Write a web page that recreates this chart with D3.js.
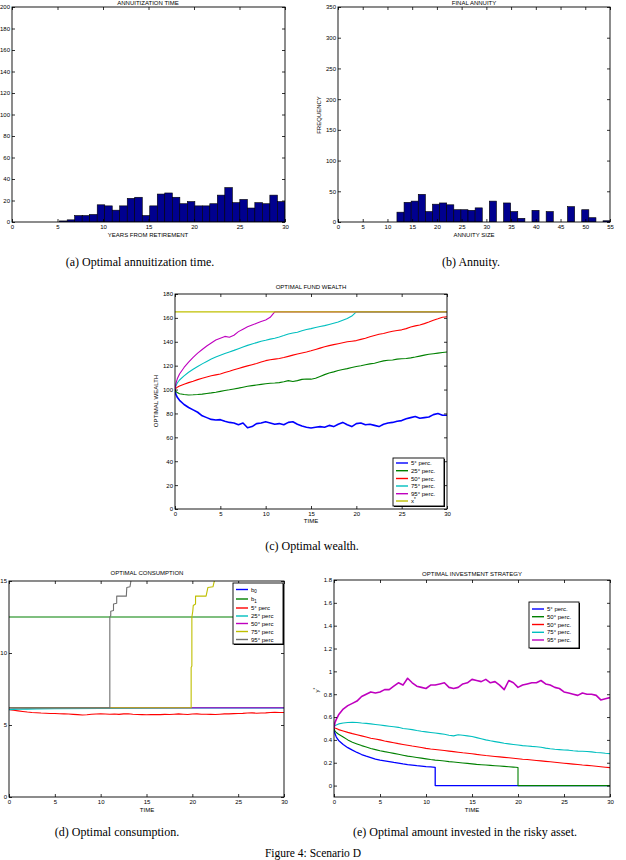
<!DOCTYPE html>
<html><head><meta charset="utf-8">
<script src="https://cdn.jsdelivr.net/npm/d3@7"></script>
<style>body{margin:0;background:#fff}svg{display:block}</style>
</head><body>
<svg id="fig" width="626" height="860"></svg>
<script>
// ---------------- DATA ----------------
// (a) annuitization time histogram
const annuitTimeBins = [5.65,6.48,7.3,8.13,8.95,9.78,10.6,11.43,12.25,13.08,13.9,14.73,15.55,16.38,17.2,18.03,18.85,19.68,20.5,21.33,22.15,22.98,23.8,24.63,25.45,26.28,27.1,27.93,28.75,29.58];
const annuitTimeCounts = [1,2,6,6,7,16,15,11,15,22,23,6,15,26,27,23,17,19,15,15,17,25,32,18,21,13,18,17,25,19];
// (b) final annuity histogram
const annuitySizeBins = [12.64,14.08,15.51,16.95,18.39,19.82,21.26,22.7,24.13,25.57,27.01,28.45,29.88,31.32,32.76,34.19,35.63,37.07,38.5,39.94,41.38,42.81,44.25,45.69,47.13,48.56,50.0,51.44,52.87,54.31];
const annuitySizeCounts = [16,32,34,45,17,29,31,28,20,20,19,23,0,34,0,31,17,6,0,19,0,17,0,0,25,0,20,7,0,2];

// common time grid (years)
const T = [0,0.1,0.25,0.5,1,1.5,2,2.5,3,3.5,4,4.5,5,5.5,6,6.5,7,7.5,8,8.5,9,9.5,10,10.5,11,11.5,12,12.5,13,13.5,14,14.5,15,15.5,16,16.5,17,17.5,18,18.5,19,19.5,20,20.5,21,21.5,22,22.5,23,23.5,24,24.5,25,25.5,26,26.5,27,27.5,28,28.5,29,29.5,30];

// (c) optimal fund wealth percentiles
const wealth5 = [100,96,93.5,91,87.5,85,83,81,78,76.5,75,74.5,74.8,73.5,72.5,72,70.5,72,68,69,71.5,72,73,72,71,71.5,70.5,72.5,73,71,69.5,68.5,67.8,68.5,69,68.5,70,69,71,72.5,70.5,69,71.5,72,70.5,71,70,69,71,72,72.5,73.5,74,75.5,76.5,77.5,76,76.5,77,79,80,78.5,78.5];
const wealth25 = [100,98.5,97.5,96.5,95.8,95.5,95.6,95.8,96.2,96.7,97.2,97.8,98.5,99.2,99.8,100.5,101.2,102,102.8,103.3,103.8,104.3,104.8,105.3,105.5,105.8,106.5,107.5,106.8,107.5,108.5,108.8,108.7,109.5,111,112.5,113.8,114.8,116,116.8,117.5,118.5,119.3,120,120.8,121.5,122,123,124,124.5,124.8,125.5,125.8,126,126.5,127.2,128,128.8,129.5,130,130.5,131,131.5];
const wealth50 = [100,101,102,103,104.5,105.8,107,108.3,109.5,110.5,111.5,112.3,113,114.2,115.3,116.5,117.7,118.8,119.8,120.8,121.8,123,124.2,125,125.5,126,126.8,127.8,128.8,129.7,130.6,131.5,132.5,133.6,134.7,135.8,136.8,137.6,138.4,139.2,140,140.5,141,142,143,144.2,145.3,146.3,147,148,148.8,149.5,150,151,152.3,153.3,154,155.2,156.5,158,159.2,160.5,161];
const wealth75 = [100,103,105.5,108,111.5,114.5,117,119.3,121.5,123.5,125.5,127.3,128.8,130.2,131.5,132.8,134.2,135.6,137,138.2,139.3,140.5,141.3,142.2,143,144,145.2,146.5,147.3,148,149.2,150.3,151,152,152.8,153.5,154.5,155.5,156.5,158,159.5,161.5,165,165,165,165,165,165,165,165,165,165,165,165,165,165,165,165,165,165,165,165,165];
const wealth95 = [100,105,109,113,118.5,123,127,130.5,133.5,136.5,139,141.5,143,144.5,143.8,145.5,148.5,150.5,152.5,154,155.5,157,158.3,160.5,165,165,165,165,165,165,165,165,165,165,165,165,165,165,165,165,165,165,165,165,165,165,165,165,165,165,165,165,165,165,165,165,165,165,165,165,165,165,165];
const wealthTargetT = [0,30];
const wealthTarget = [165,165];

// (d) optimal consumption
const consB0T = [0,30], consB0 = [6.2,6.2];
const consB1T = [0,30], consB1 = [12.5,12.5];
const cons5 = [6.08,6.07,6.05,6.02,5.98,5.94,5.9,5.87,5.85,5.83,5.82,5.8,5.8,5.78,5.77,5.76,5.74,5.72,5.69,5.71,5.75,5.76,5.77,5.76,5.75,5.76,5.74,5.77,5.78,5.75,5.73,5.72,5.71,5.72,5.73,5.72,5.74,5.73,5.75,5.77,5.75,5.73,5.76,5.77,5.75,5.75,5.74,5.73,5.75,5.77,5.77,5.79,5.8,5.81,5.83,5.84,5.82,5.83,5.84,5.87,5.88,5.87,5.87];
const cons25T = [0,0.5,1,2,3,5,10,15,20,30];
const cons25 = [6.08,6.1,6.11,6.12,6.13,6.15,6.17,6.18,6.2,6.2];
const cons50T = [0,30], cons50 = [6.2,6.2];
const cons75T = [0,19.87,19.87,19.95,19.95,20.05,20.1,20.35,20.35,21.5,21.7,22.25,22.4,22.6];
const cons75 = [6.2,6.2,9.0,9.1,12.5,12.9,13.3,13.4,13.95,13.95,14.55,14.6,15.0,15.5];
const cons95T = [0,11,11,11.1,11.1,11.4,11.4,11.75,11.75,12.8,12.85,13.2,13.3,13.6];
const cons95 = [6.2,6.2,12.5,12.6,12.9,12.95,13.4,13.45,13.95,13.95,14.55,14.6,15.0,15.5];

// (e) optimal investment strategy
const inv5 = [0.5,0.455,0.425,0.395,0.36,0.332,0.31,0.29,0.272,0.258,0.245,0.232,0.222,0.216,0.21,0.203,0.197,0.19,0.184,0.179,0.174,0.17,0.166,0.163,0.16];
const inv5TailT = [11,30], inv5Tail = [0,0];
const inv50a = [0.5,0.48,0.465,0.45,0.425,0.4,0.38,0.365,0.35,0.338,0.325,0.315,0.305,0.297,0.29,0.282,0.274,0.266,0.258,0.252,0.246,0.24,0.234,0.228,0.223,0.219,0.215,0.21,0.206,0.202,0.198,0.194,0.19,0.186,0.183,0.18,0.177,0.174,0.171,0.168,0.165,0.162,0.158];
const inv50aTailT = [20,30], inv50aTail = [0,0];
const inv50b = [0.51,0.505,0.5,0.49,0.478,0.466,0.455,0.445,0.435,0.425,0.415,0.408,0.4,0.39,0.383,0.375,0.367,0.36,0.353,0.346,0.34,0.333,0.326,0.32,0.316,0.312,0.307,0.302,0.297,0.292,0.287,0.283,0.279,0.273,0.268,0.263,0.259,0.255,0.251,0.247,0.243,0.239,0.235,0.231,0.228,0.224,0.22,0.216,0.212,0.208,0.204,0.2,0.196,0.192,0.188,0.184,0.18,0.177,0.173,0.169,0.165,0.161,0.157];
const inv75 = [0.52,0.525,0.53,0.54,0.548,0.552,0.553,0.552,0.548,0.545,0.54,0.535,0.53,0.525,0.52,0.515,0.51,0.5,0.495,0.49,0.482,0.475,0.47,0.465,0.46,0.455,0.45,0.44,0.435,0.445,0.44,0.435,0.43,0.42,0.41,0.4,0.392,0.385,0.378,0.37,0.365,0.36,0.355,0.35,0.347,0.343,0.34,0.335,0.328,0.322,0.318,0.315,0.312,0.31,0.305,0.302,0.3,0.298,0.295,0.29,0.287,0.283,0.28];
const inv95 = [0.5,0.55,0.58,0.62,0.67,0.7,0.72,0.74,0.78,0.8,0.82,0.81,0.82,0.84,0.84,0.87,0.9,0.88,0.94,0.9,0.87,0.86,0.85,0.88,0.88,0.89,0.9,0.86,0.85,0.86,0.89,0.9,0.93,0.92,0.91,0.93,0.9,0.91,0.88,0.84,0.92,0.9,0.86,0.88,0.89,0.9,0.9,0.92,0.89,0.88,0.86,0.85,0.82,0.81,0.8,0.79,0.81,0.8,0.8,0.79,0.75,0.76,0.77];

// tick values
const ticks0to30 = [0,5,10,15,20,25,30];
const ticksA_y = [0,20,40,60,80,100,120,140,160,180,200];
const ticksB_x = [0,5,10,15,20,25,30,35,40,45,50,55];
const ticksB_y = [0,50,100,150,200,250,300,350];
const ticksC_y = [0,20,40,60,80,100,120,140,160,180];
const ticksD_y = [0,5,10,15];
const ticksE_y = [0,0.2,0.4,0.6,0.8,1,1.2,1.4,1.6,1.8];

// sanity check
[wealth5,wealth25,wealth50,wealth75,wealth95,cons5,inv50b,inv75,inv95].forEach((a,i)=>{ if(a.length!==T.length) throw new Error("len mismatch "+i+" "+a.length); });

// ---------------- DRAWING ----------------
const C = {b:"#0000ff", g:"#008000", r:"#ff0000", c:"#00bfbf", m:"#bf00bf", y:"#bfbf00", k:"#707070", bar:"#00008f"};
const SANS = "'Liberation Sans', Arial, Helvetica, sans-serif";
const SERIF = "'Liberation Serif', 'Times New Roman', serif";
const svg = d3.select("#fig");
svg.append("rect").attr("width",626).attr("height",860).attr("fill","#fff");
let clipN = 0;

function makePanel(box, xDom, yDom) {
  const x = d3.scaleLinear().domain(xDom).range([box.l, box.r]);
  const y = d3.scaleLinear().domain(yDom).range([box.b, box.t]);
  const id = "clip" + (clipN++);
  svg.append("clipPath").attr("id", id).append("rect")
    .attr("x", box.l).attr("y", box.t).attr("width", box.r - box.l).attr("height", box.b - box.t);
  const g = svg.append("g");
  const plot = g.append("g").attr("clip-path", `url(#${id})`);
  return {x, y, g, plot, box};
}

function styleAxis(sel) {
  sel.select(".domain").remove();
  sel.selectAll(".tick line").attr("stroke", "#000").attr("stroke-width", 0.8);
  sel.selectAll("text").attr("font-family", SANS).attr("font-size", 6).attr("fill", "#000");
}

function drawAxes(p, xTicks, yTicks, fmtX, fmtY) {
  const {x, y, g, box} = p;
  const ts = 3;
  g.append("g").attr("transform", `translate(0,${box.b})`)
    .call(d3.axisBottom(x).tickValues(xTicks).tickSizeInner(-ts).tickSizeOuter(0).tickPadding(3).tickFormat(fmtX || (d => d)))
    .call(styleAxis);
  g.append("g").attr("transform", `translate(0,${box.t})`)
    .call(d3.axisTop(x).tickValues(xTicks).tickSizeInner(-ts).tickSizeOuter(0).tickFormat(""))
    .call(styleAxis);
  g.append("g").attr("transform", `translate(${box.l},0)`)
    .call(d3.axisLeft(y).tickValues(yTicks).tickSizeInner(-ts).tickSizeOuter(0).tickPadding(2).tickFormat(fmtY || (d => d)))
    .call(styleAxis);
  g.append("g").attr("transform", `translate(${box.r},0)`)
    .call(d3.axisRight(y).tickValues(yTicks).tickSizeInner(-ts).tickSizeOuter(0).tickFormat(""))
    .call(styleAxis);
  g.append("rect").attr("x", box.l).attr("y", box.t).attr("width", box.r - box.l).attr("height", box.b - box.t)
    .attr("fill", "none").attr("stroke", "#000").attr("stroke-width", 0.9);
}

function label(txt, x, y, opts = {}) {
  const t = svg.append("text").attr("x", x).attr("y", y)
    .attr("font-family", opts.serif ? SERIF : SANS).attr("font-size", opts.size || 6)
    .attr("text-anchor", opts.anchor || "middle").attr("fill", "#000");
  if (opts.rotate) t.attr("transform", `rotate(-90,${x},${y})`);
  t.text(txt);
  return t;
}

function drawHist(p, bins, counts) {
  const w = bins[1] - bins[0];
  p.plot.selectAll("rect.bar").data(bins.map((b, i) => ({b, c: counts[i]})).filter(d => d.c > 0))
    .enter().append("rect").attr("class", "bar")
    .attr("x", d => p.x(d.b - w / 2)).attr("width", d => p.x(d.b + w / 2) - p.x(d.b - w / 2))
    .attr("y", d => p.y(d.c)).attr("height", d => p.y(0) - p.y(d.c))
    .attr("fill", C.bar).attr("stroke", "#000").attr("stroke-width", 0.6);
}

function drawLine(p, ts, vs, color, width) {
  const pts = ts.map((t, i) => [t, vs[i]]);
  p.plot.append("path").datum(pts)
    .attr("d", d3.line().x(d => p.x(d[0])).y(d => p.y(d[1])))
    .attr("fill", "none").attr("stroke", color).attr("stroke-width", width || 1.1)
    .attr("stroke-linejoin", "round");
}

function drawLegend(x0, y0, w, h, rowY, items) {
  const g = svg.append("g");
  g.append("rect").attr("x", x0 + 1).attr("y", y0 + 1).attr("width", w).attr("height", h).attr("fill", "#000");
  g.append("rect").attr("x", x0).attr("y", y0).attr("width", w).attr("height", h).attr("fill", "#fff").attr("stroke", "#000").attr("stroke-width", 0.9);
  items.forEach((it, i) => {
    const yy = rowY[i];
    g.append("line").attr("x1", x0 + 3).attr("x2", x0 + 15).attr("y1", yy).attr("y2", yy)
      .attr("stroke", it.color).attr("stroke-width", 1.4);
    const t = g.append("text").attr("x", x0 + 18).attr("y", yy + 2).attr("font-family", SANS).attr("font-size", 6).attr("fill", "#000");
    t.append("tspan").text(it.label);
    if (it.sub) t.append("tspan").attr("dy", 1.5).attr("font-size", 4.5).text(it.sub);
    if (it.sup) t.append("tspan").attr("dy", -2).attr("font-size", 4.5).text(it.sup);
  });
}

// ----- (a) annuitization time -----
const pa = makePanel({l: 12, r: 285, t: 7, b: 222}, [0, 30], [0, 200]);
drawHist(pa, annuitTimeBins, annuitTimeCounts);
drawAxes(pa, ticks0to30, ticksA_y);
label("ANNUITIZATION TIME", 148, 5);
label("YEARS FROM RETIREMENT", 148, 237);
label("(a) Optimal annuitization time.", 140, 266, {serif: true, size: 12});

// ----- (b) final annuity -----
const pb = makePanel({l: 338, r: 610, t: 7, b: 222}, [0, 55], [0, 350]);
drawHist(pb, annuitySizeBins, annuitySizeCounts);
drawAxes(pb, ticksB_x, ticksB_y);
label("FINAL ANNUITY", 474, 5);
label("ANNUITY SIZE", 474, 237);
label("FREQUENCY", 321, 115, {rotate: true});
label("(b) Annuity.", 471, 266, {serif: true, size: 12});

// ----- (c) optimal fund wealth -----
const pc = makePanel({l: 175, r: 447, t: 294, b: 509}, [0, 30], [0, 180]);
drawLine(pc, T, wealth5, C.b, 1.6);
drawLine(pc, T, wealth25, C.g);
drawLine(pc, T, wealth50, C.r);
drawLine(pc, T, wealth75, C.c);
drawLine(pc, T, wealth95, C.m);
drawLine(pc, wealthTargetT, wealthTarget, C.y, 1.3);
drawAxes(pc, ticks0to30, ticksC_y);
label("OPTIMAL FUND WEALTH", 311, 289);
label("TIME", 311, 523);
label("OPTIMAL WEALTH", 158, 401, {rotate: true});
drawLegend(393, 458, 51, 48, [463, 470.7, 478.5, 486, 493.7, 501],
  [{label: "5° perc.", color: C.b}, {label: "25° perc.", color: C.g}, {label: "50° perc.", color: C.r},
   {label: "75° perc.", color: C.c}, {label: "95° perc.", color: C.m}, {label: "x", sup: "*", color: C.y}]);
label("(c) Optimal wealth.", 312, 550, {serif: true, size: 12});

// ----- (d) optimal consumption -----
const pd = makePanel({l: 9, r: 284, t: 581, b: 797}, [0, 30], [0, 15]);
drawLine(pd, consB0T, consB0, C.b);
drawLine(pd, consB1T, consB1, C.g);
drawLine(pd, T, cons5, C.r);
drawLine(pd, cons25T, cons25, C.c, 1.6);
drawLine(pd, cons50T, cons50, C.m);
drawLine(pd, cons75T, cons75, C.y);
drawLine(pd, cons95T, cons95, C.k);
drawAxes(pd, ticks0to30, ticksD_y);
label("OPTIMAL CONSUMPTION", 147, 575);
label("TIME", 147, 812);
drawLegend(233, 583, 50, 61, [589.5, 599, 608, 616, 623.5, 631.5, 639.5],
  [{label: "b", sub: "0", color: C.b}, {label: "b", sub: "1", color: C.g}, {label: "5° perc", color: C.r},
   {label: "25° perc", color: C.c}, {label: "50° perc", color: C.m}, {label: "75° perc", color: C.y},
   {label: "95° perc", color: C.k}]);
label("(d) Optimal consumption.", 117, 836, {serif: true, size: 12});

// ----- (e) optimal investment strategy -----
const pe = makePanel({l: 334, r: 610, t: 580, b: 797}, [0, 30], [-0.1, 1.8]);
drawLine(pe, T.slice(0, inv5.length).concat(inv5TailT), inv5.concat(inv5Tail), C.b, 1.3);
drawLine(pe, T.slice(0, inv50a.length).concat(inv50aTailT), inv50a.concat(inv50aTail), C.g);
drawLine(pe, T, inv50b, C.r);
drawLine(pe, T, inv75, C.c);
drawLine(pe, T, inv95, C.m, 1.6);
drawAxes(pe, ticks0to30, ticksE_y, null, d => String(+d.toFixed(1)));
label("OPTIMAL INVESTMENT STRATEGY", 472, 576);
label("TIME", 472, 812);
const ylab = svg.append("text").attr("x", 319).attr("y", 690).attr("font-family", SANS).attr("font-size", 6)
  .attr("text-anchor", "middle").attr("transform", "rotate(-90,319,690)");
ylab.append("tspan").text("y");
ylab.append("tspan").attr("dy", -2).attr("font-size", 4.5).text("*");
drawLegend(529, 602, 50, 46, [609, 616.7, 624.5, 632.3, 640],
  [{label: "5° perc.", color: C.b}, {label: "50° perc.", color: C.g}, {label: "50° perc.", color: C.r},
   {label: "75° perc.", color: C.c}, {label: "95° perc.", color: C.m}]);
label("(e) Optimal amount invested in the risky asset.", 465, 836, {serif: true, size: 12});

// figure caption
label("Figure 4: Scenario D", 313, 857, {serif: true, size: 11.5});
</script>
</body></html>
